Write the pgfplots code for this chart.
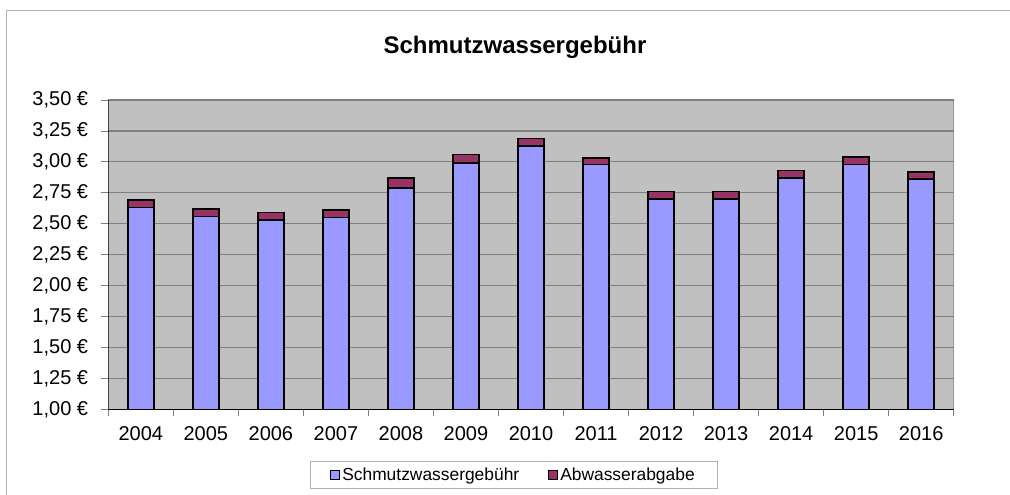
\documentclass[border=0pt]{standalone}
\usepackage{pgfplots}
\pgfplotsset{compat=1.18}
\usepackage{fontspec}
\setmainfont{Liberation Sans}
\definecolor{blu}{HTML}{9999FF}
\definecolor{mar}{HTML}{993366}
\definecolor{bgc}{HTML}{C0C0C0}
\definecolor{grd}{HTML}{808080}
\pgfplotsset{mylegend/.style={legend image code/.code={\draw[##1, line width=1pt] (0pt,-4.5pt) rectangle (9pt,4.5pt);}}}
\begin{document}
\begin{tikzpicture}
\useasboundingbox (0pt,0pt) rectangle (1010pt,495pt);
\fill[white] (0pt,0pt) rectangle (1010pt,495pt);
\draw[color=black!30, line width=1pt] (6pt,-5pt) -- (6pt,484pt) -- (1015pt,484pt);
\node[font=\fontsize{24}{28}\selectfont\bfseries, anchor=base] at (515pt,441pt) {Schmutzwassergebühr};
\begin{axis}[
  at={(108.3pt,85.7pt)}, anchor=south west,
  scale only axis, width=845.4pt, height=309.3pt,
  ybar stacked, bar width=0.4,
  xmin=-0.5, xmax=12.5, ymin=1, ymax=3.5,
  xtick={-0.5,0.5,...,12.5}, xticklabels={},
  extra x ticks={0,1,2,3,4,5,6,7,8,9,10,11,12},
  extra x tick labels={2004,2005,2006,2007,2008,2009,2010,2011,2012,2013,2014,2015,2016},
  extra x tick style={tick style={draw=none}},
  ytick={1,1.25,1.5,1.75,2,2.25,2.5,2.75,3,3.25,3.5},
  yticklabels={{1,00 €},{1,25 €},{1,50 €},{1,75 €},{2,00 €},{2,25 €},{2,50 €},{2,75 €},{3,00 €},{3,25 €},{3,50 €}},
  tick pos=left,
  tick align=outside, major tick length=7pt,
  tick style={grd, line width=0.8pt},
  ymajorgrids, major grid style={grd, line width=1.2pt},
  axis background/.style={fill=bgc},
  axis line style={draw=none},
  tick label style={font=\fontsize{20}{22}\selectfont, inner sep=0pt},
  yticklabel style={xshift=-13pt},
  xticklabel style={yshift=-10pt},
  legend style={at={(0.4793,-0.211)}, anchor=center, draw=black!30, fill=white,
    legend columns=2, font=\fontsize{17.4}{20}\selectfont, inner xsep=20pt, inner ysep=4.5pt,
    /tikz/every even column/.append style={column sep=27pt}},
  legend cell align=left,
]
\addplot[fill=blu, draw=black, line width=1.5pt, mylegend]
  coordinates {(0,2.63) (1,2.56) (2,2.53) (3,2.55) (4,2.79) (5,2.99) (6,3.13) (7,2.98) (8,2.70) (9,2.70) (10,2.87) (11,2.98) (12,2.86)};
\addplot[fill=mar, draw=black, line width=1.5pt, mylegend]
  coordinates {(0,0.06) (1,0.06) (2,0.06) (3,0.06) (4,0.08) (5,0.07) (6,0.06) (7,0.05) (8,0.06) (9,0.06) (10,0.06) (11,0.06) (12,0.06)};
\legend{Schmutzwassergebühr,Abwasserabgabe}
\draw[grd, line width=1pt] (rel axis cs:0,1) -- (rel axis cs:1,1) -- (rel axis cs:1,0);
\draw[black, line width=1.2pt] (rel axis cs:0,1) -- (rel axis cs:0,0) -- (rel axis cs:1,0);
\end{axis}
\end{tikzpicture}
\end{document}
